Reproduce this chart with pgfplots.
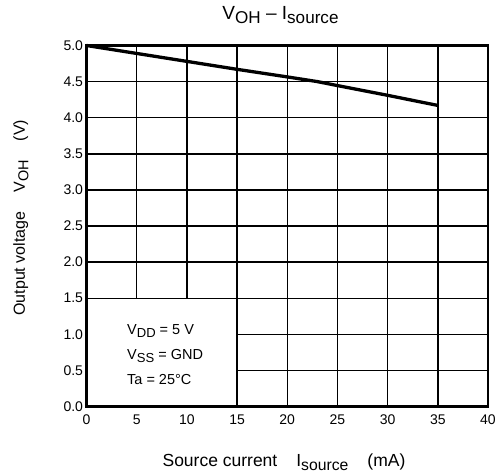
\documentclass[border=0pt]{standalone}
\usepackage{pgfplots}
\pgfplotsset{compat=1.18}
\usepackage{fontspec}
\setmainfont{Liberation Sans}
% lowered subscript, nearly full size as in the datasheet
\newcommand{\sub}[1]{\raisebox{-0.22em}{\scalebox{0.9}{#1}}}

\begin{document}
\begin{tikzpicture}
\useasboundingbox (-86.5pt,-68.5pt) rectangle (412.5pt,406.5pt);
\begin{axis}[
    at={(0pt,0pt)}, anchor=south west,
    scale only axis,
    width=401.5pt, height=361pt,
    xmin=0, xmax=40,
    ymin=0, ymax=5,
    xtick={0,5,...,40},
    ytick={0,0.5,...,5},
    grid=major,
    major grid style={black, line width=1.4pt},
    axis line style={black, line width=2.8pt},
    major tick length=0pt,
    /pgf/number format/assume math mode=true,
    ticklabel style={font=\fontsize{14}{14}\selectfont},
    yticklabel style={/pgf/number format/.cd, fixed, fixed zerofill, precision=1},
    xticklabel style={yshift=-5pt},
    clip=false,
]
    % box with the test conditions
    \fill[white] (axis cs:0,0) rectangle (axis cs:15,1.5);
    \draw[black, line width=1.4pt] (axis cs:0,1.5) -| (axis cs:15,0);
    \draw[black, line width=2.8pt] (axis cs:0,1.5) |- (axis cs:15,0);

    \addplot[black, line width=3.3pt] coordinates {
        (0,5.0)(5,4.89)(10,4.78)(15,4.67)(20,4.565)(23,4.5)(25,4.445)(30,4.31)(35,4.17)
    };

    \node[anchor=base west, font=\fontsize{14.5}{14.5}\selectfont] at (axis cs:3.7,1.0) {V\sub{DD} = 5 V};
    \node[anchor=base west, font=\fontsize{14.5}{14.5}\selectfont] at (axis cs:3.7,0.65) {V\sub{SS} = GND};
    \node[anchor=base west, font=\fontsize{14.5}{14.5}\selectfont] at (axis cs:3.7,0.30) {Ta = 25°C};
\end{axis}

\node[anchor=base, font=\fontsize{19}{19}\selectfont] at (194pt,386.7pt) {V\sub{OH} – I\sub{source}};
\node[anchor=base, font=\fontsize{17.5}{17.5}\selectfont] at (197.5pt,-60.3pt)
    {Source current\hspace{19pt}I\sub{source}\hspace{19pt}(mA)};
\node[rotate=90, anchor=center, font=\fontsize{16}{16}\selectfont] at (-65.5pt,188.7pt)
    {Output voltage\hspace{19pt}V\sub{OH}\hspace{19pt}(V)};
\end{tikzpicture}
\end{document}
